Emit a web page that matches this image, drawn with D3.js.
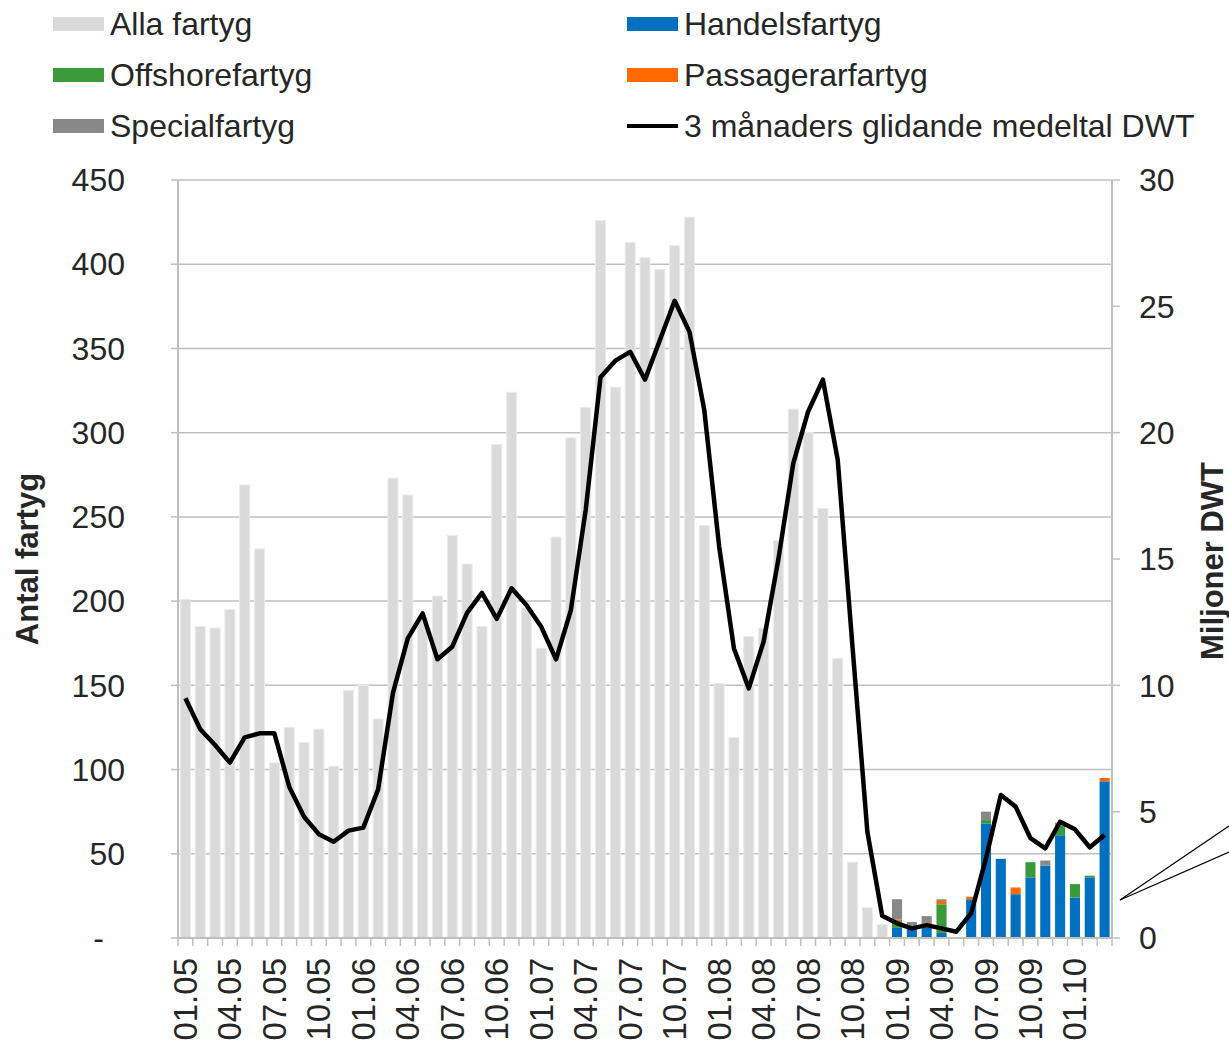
<!DOCTYPE html>
<html>
<head>
<meta charset="utf-8">
<script src="https://cdn.jsdelivr.net/npm/d3@7/dist/d3.min.js"></script>
<style>
  body { margin: 0; background: #fff; }
  text { font-family: "Liberation Sans", Arial, sans-serif; fill: #262626; }
</style>
</head>
<body>
<div id="chart"></div>
<script>
// months (MM.YY)
const months = [
  "01.05","02.05","03.05","04.05","05.05","06.05","07.05","08.05","09.05","10.05","11.05","12.05",
  "01.06","02.06","03.06","04.06","05.06","06.06","07.06","08.06","09.06","10.06","11.06","12.06",
  "01.07","02.07","03.07","04.07","05.07","06.07","07.07","08.07","09.07","10.07","11.07","12.07",
  "01.08","02.08","03.08","04.08","05.08","06.08","07.08","08.08","09.08","10.08","11.08","12.08",
  "01.09","02.09","03.09","04.09","05.09","06.09","07.09","08.09","09.09","10.09","11.09","12.09",
  "01.10","02.10","03.10"
];

// Alla fartyg, 01.05 - 12.08
const alla = [201,185,184,195,269,231,104,125,116,124,102,147,150,130,273,263,190,203,239,222,
  185,293,324,196,172,238,297,315,426,327,413,404,397,411,428,245,151,119,179,184,
  236,314,300,255,166,45,18,8];

// split by type, 01.09 - 03.10
const handels   = [6,6,6,3,0,23,68,47,26,36,43,61,24,36,93];
const offshore  = [4,0,1,17,0,0,2,0,0,9,0,6,8,1,0];
const passager  = [1,1,2,2,0,1.5,0,0,4,0,0,1.5,0,0,2];
const special   = [12,2.5,4,1,0,0,5,0,0,0,3,0,0,0,0];

// 3 månaders glidande medeltal DWT (miljoner)
const dwt = [9.49,8.26,7.64,6.94,7.94,8.1,8.1,5.99,4.8,4.11,3.81,4.25,4.37,5.88,9.7,11.86,12.85,11.03,11.53,12.87,
  13.66,12.63,13.84,13.18,12.32,11.03,12.98,16.94,22.19,22.85,23.2,22.1,23.66,25.22,23.99,20.89,15.5,11.46,9.88,11.73,
  15.0,18.78,20.83,22.1,18.92,11.5,4.2,0.88,0.58,0.38,0.51,0.38,0.25,0.98,3.15,5.66,5.2,3.95,3.55,4.6,
  4.3,3.59,4.08];

const leftTicks = [0,50,100,150,200,250,300,350,400,450];
const rightTicks = [0,5,10,15,20,25,30];

const width = 1229, height = 1050;
const x0 = 178, x1 = 1112, yTop = 180, yBot = 938;

const svg = d3.select("#chart").append("svg")
  .attr("width", width)
  .attr("height", height);

const x = d3.scaleBand()
  .domain(months)
  .range([x0, x1])
  .paddingInner(0.32)
  .paddingOuter(0.16);

const y = d3.scaleLinear().domain([0, 450]).range([yBot, yTop]);
const y2 = d3.scaleLinear().domain([0, 30]).range([yBot, yTop]);

// gridlines
svg.append("g")
  .selectAll("line")
  .data(leftTicks.slice(1))
  .join("line")
  .attr("x1", x0).attr("x2", x1)
  .attr("y1", d => y(d)).attr("y2", d => y(d))
  .attr("stroke", "#bfbfbf")
  .attr("stroke-width", 1.5);

// Alla fartyg bars
svg.append("g")
  .selectAll("rect")
  .data(alla)
  .join("rect")
  .attr("x", (d, i) => x(months[i]))
  .attr("width", x.bandwidth())
  .attr("y", d => y(d))
  .attr("height", d => yBot - y(d))
  .attr("fill", "#dadada")
  .attr("stroke", "#ececec")
  .attr("stroke-width", 1);

// stacked types
const stackMonths = months.slice(alla.length);
const typeRows = stackMonths.map((m, i) => ({
  month: m, handels: handels[i], offshore: offshore[i], passager: passager[i], special: special[i]
}));
const keys = ["handels", "offshore", "passager", "special"];
const colors = { handels: "#0070c0", offshore: "#3a9a3a", passager: "#ff6a00", special: "#888888" };
const series = d3.stack().keys(keys)(typeRows);

svg.append("g")
  .selectAll("g")
  .data(series)
  .join("g")
  .attr("fill", s => colors[s.key])
  .selectAll("rect")
  .data(s => s)
  .join("rect")
  .attr("x", d => x(d.data.month))
  .attr("width", x.bandwidth())
  .attr("y", d => y(d[1]))
  .attr("height", d => y(d[0]) - y(d[1]));

// axes lines
svg.append("line").attr("x1", x0).attr("x2", x0).attr("y1", yTop).attr("y2", yBot)
  .attr("stroke", "#bfbfbf").attr("stroke-width", 2);
svg.append("line").attr("x1", x1).attr("x2", x1).attr("y1", yTop).attr("y2", yBot)
  .attr("stroke", "#bfbfbf").attr("stroke-width", 2);
svg.append("line").attr("x1", x0).attr("x2", x1).attr("y1", yBot).attr("y2", yBot)
  .attr("stroke", "#bfbfbf").attr("stroke-width", 2);

// x ticks between categories
const step = x.step();
svg.append("g")
  .selectAll("line")
  .data(d3.range(months.length + 1))
  .join("line")
  .attr("x1", i => x0 + i * step).attr("x2", i => x0 + i * step)
  .attr("y1", yBot).attr("y2", yBot + 8)
  .attr("stroke", "#bfbfbf").attr("stroke-width", 1.5);

// left ticks + labels
svg.append("g")
  .selectAll("line")
  .data(leftTicks)
  .join("line")
  .attr("x1", x0 - 7).attr("x2", x0)
  .attr("y1", d => y(d)).attr("y2", d => y(d))
  .attr("stroke", "#bfbfbf").attr("stroke-width", 1.5);

svg.append("g")
  .selectAll("text")
  .data(leftTicks)
  .join("text")
  .attr("x", d => d === 0 ? 104 : 125)
  .attr("y", d => y(d))
  .attr("dy", "0.35em")
  .attr("text-anchor", "end")
  .style("font-size", "32px")
  .text(d => d === 0 ? "-" : d);

// right ticks + labels
svg.append("g")
  .selectAll("line")
  .data(rightTicks)
  .join("line")
  .attr("x1", x1).attr("x2", x1 + 8)
  .attr("y1", d => y2(d)).attr("y2", d => y2(d))
  .attr("stroke", "#bfbfbf").attr("stroke-width", 1.5);

svg.append("g")
  .selectAll("text")
  .data(rightTicks)
  .join("text")
  .attr("x", 1139)
  .attr("y", d => y2(d))
  .attr("dy", "0.35em")
  .style("font-size", "32px")
  .text(d => d);

// x labels, every third month
svg.append("g")
  .selectAll("text")
  .data(months.filter((m, i) => i % 3 === 0))
  .join("text")
  .attr("transform", m => `translate(${x(m) + x.bandwidth() / 2},958) rotate(-90)`)
  .attr("dy", "0.35em")
  .attr("text-anchor", "end")
  .style("font-size", "33px")
  .text(m => m);

// axis titles
svg.append("text")
  .attr("transform", `translate(27,${(yTop + yBot) / 2}) rotate(-90)`)
  .attr("text-anchor", "middle")
  .attr("dy", "0.35em")
  .style("font-size", "31px")
  .style("font-weight", "bold")
  .text("Antal fartyg");

svg.append("text")
  .attr("transform", `translate(1212,${(yTop + yBot) / 2 + 2}) rotate(-90)`)
  .attr("text-anchor", "middle")
  .attr("dy", "0.35em")
  .style("font-size", "31px")
  .style("font-weight", "bold")
  .text("Miljoner DWT");

// DWT line
const line = d3.line()
  .x((d, i) => x(months[i]) + x.bandwidth() / 2)
  .y(d => y2(d));

svg.append("path")
  .datum(dwt)
  .attr("d", line)
  .attr("fill", "none")
  .attr("stroke", "#000")
  .attr("stroke-width", 4.5)
  .attr("stroke-linejoin", "round");

// callout lines at right edge
svg.append("g")
  .selectAll("line")
  .data([826, 852])
  .join("line")
  .attr("x1", 1120).attr("y1", 900)
  .attr("x2", 1229).attr("y2", d => d)
  .attr("stroke", "#000").attr("stroke-width", 1.2);

// legend
const legendItems = [
  { label: "Alla fartyg", color: "#dadada", col: 0, row: 0 },
  { label: "Handelsfartyg", color: "#0070c0", col: 1, row: 0 },
  { label: "Offshorefartyg", color: "#3a9a3a", col: 0, row: 1 },
  { label: "Passagerarfartyg", color: "#ff6a00", col: 1, row: 1 },
  { label: "Specialfartyg", color: "#888888", col: 0, row: 2 },
  { label: "3 månaders glidande medeltal DWT", color: "#000", col: 1, row: 2, isLine: true }
];

const legend = svg.append("g")
  .selectAll("g")
  .data(legendItems)
  .join("g")
  .attr("transform", d => `translate(${d.col === 0 ? 53 : 627},${24 + d.row * 51})`);

legend.each(function(d) {
  const g = d3.select(this);
  if (d.isLine) {
    g.append("rect").attr("x", 0).attr("y", -2).attr("width", 51).attr("height", 4).attr("fill", "#000");
  } else {
    g.append("rect").attr("x", 0).attr("y", -7).attr("width", 51).attr("height", 14).attr("fill", d.color);
  }
  g.append("text")
    .attr("x", 57)
    .attr("dy", "0.35em")
    .style("font-size", "32px")
    .text(d.label);
});
</script>
</body>
</html>
